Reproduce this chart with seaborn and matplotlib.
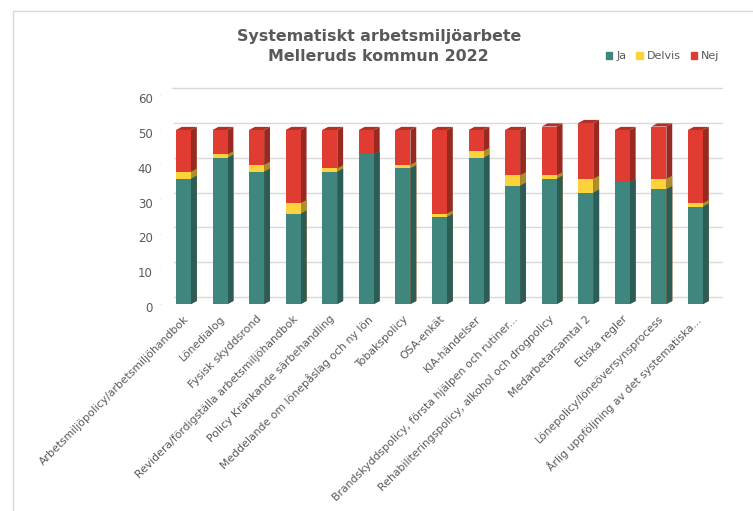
import numpy as np
import pandas as pd
import matplotlib
matplotlib.use("Agg")
import matplotlib.pyplot as plt
import matplotlib.transforms as mtransforms
import seaborn as sns
from matplotlib.patches import Polygon, Rectangle
from matplotlib.lines import Line2D
from matplotlib.colors import to_rgb

aktiviteter = [
    "Arbetsmiljöpolicy/arbetsmiljöhandbok",
    "Lönedialog",
    "Fysisk skyddsrond",
    "Revidera/fördigställa arbetsmiljöhandbok",
    "Policy Kränkande särbehandling",
    "Meddelande om lönepåslag och ny lön",
    "Tobakspolicy",
    "OSA-enkät",
    "KIA-händelser",
    "Brandskyddspolicy, första hjälpen och rutiner...",
    "Rehabiliteringspolicy, alkohol och drogpolicy",
    "Medarbetarsamtal 2",
    "Etiska regler",
    "Lönepolicy/löneöversynsprocess",
    "Årlig uppföljning av det systematiska...",
]
ja = [36, 42, 38, 26, 38, 43, 39, 25, 42, 34, 36, 32, 35, 33, 28]
delvis = [2, 1, 2, 3, 1, 0, 1, 1, 2, 3, 1, 4, 0, 3, 1]
nej = [12, 7, 10, 21, 11, 7, 10, 24, 6, 13, 14, 16, 15, 15, 21]
yticks = [0, 10, 20, 30, 40, 50, 60]

farger = {"Ja": "#3F877E", "Delvis": "#FDD33C", "Nej": "#E03C31"}
textfarg = "#595959"

df = pd.DataFrame({"aktivitet": aktiviteter, "Ja": ja, "Delvis": delvis, "Nej": nej})
df["ja_delvis"] = df["Ja"] + df["Delvis"]
df["total"] = df["ja_delvis"] + df["Nej"]

sns.set_style("white")
plt.rcParams["font.family"] = ["DejaVu Sans"]
fig = plt.figure(figsize=(7.53, 5.11), dpi=100)
ax = fig.add_axes([0.2138, 0.405, 0.7462, 0.421])

# staplade staplar: störst först
for kol, farg in [("total", farger["Nej"]), ("ja_delvis", farger["Delvis"]), ("Ja", farger["Ja"])]:
    sns.barplot(x="aktivitet", y=kol, data=df, color=farg, width=0.41,
                saturation=1, ax=ax, zorder=3, edgecolor="none", linewidth=0)

# lite 3D-känsla: sidor och tak
dx, dy = 0.16, 0.9
def mork(c, f):
    r, g, b = to_rgb(c)
    return (r * f, g * f, b * f)

bars = [p for p in ax.patches if isinstance(p, Rectangle)]
for p in bars:
    x0, y0 = p.get_x(), p.get_y()
    x1, y1 = x0 + p.get_width(), y0 + p.get_height()
    if y1 <= y0:
        continue
    ax.add_patch(Polygon([(x1, y0), (x1 + dx, y0 + dy), (x1 + dx, y1 + dy), (x1, y1)],
                         closed=True, facecolor=mork(p.get_facecolor(), 0.68),
                         edgecolor="none", zorder=2.9))
for i, t in enumerate(df["total"]):
    x0, w = bars[i].get_x(), bars[i].get_width()
    ax.add_patch(Polygon([(x0, t), (x0 + dx, t + dy), (x0 + w + dx, t + dy), (x0 + w, t)],
                         closed=True, facecolor=mork(farger["Nej"], 0.8),
                         edgecolor="none", zorder=3.1))

ax.set_ylim(0, 61.8)
ax.set_xlim(-0.615, len(aktiviteter) - 0.25)
ax.set_yticks(yticks)
ax.grid(False)

# rutnät i bakgrunden, förskjutet som i ett 3D-diagram
bak = mtransforms.offset_copy(ax.get_yaxis_transform(), fig=fig, x=13, y=7, units="dots")
for v in yticks:
    ax.add_line(Line2D([0, 0.975], [v, v], transform=bak, color="#D9D9D9", lw=1,
                       zorder=0, clip_on=False))
    p0 = ax.get_yaxis_transform().transform((0, v))
    p1 = p0 + np.array([13, 7])
    fig.add_artist(Line2D([p0[0], p1[0]], [p0[1], p1[1]], transform=None,
                          color="#D9D9D9", lw=1, zorder=0))

for s in ax.spines.values():
    s.set_visible(False)
ax.set_xlabel("")
ax.set_ylabel("")
ax.tick_params(axis="both", length=0, colors=textfarg, labelsize=8.5)
ax.tick_params(axis="y", pad=6)
ax.tick_params(axis="x", pad=7, labelsize=7.8)
ax.set_xticks(range(len(aktiviteter)))
ax.set_xticklabels(aktiviteter, rotation=45, ha="right", rotation_mode="anchor")
ned = mtransforms.ScaledTranslation(0, -3 / 100, fig.dpi_scale_trans)
for lab in ax.get_yticklabels():
    lab.set_transform(lab.get_transform() + ned)

fig.text(0.503, 0.909, "Systematiskt arbetsmiljöarbete\nMelleruds kommun 2022",
         ha="center", va="center", fontsize=11.4, fontweight="bold",
         color=textfarg, linespacing=1.45)

handles = [Rectangle((0, 0), 1, 1, color=farger[k]) for k in ["Ja", "Delvis", "Nej"]]
fig.legend(handles, ["Ja", "Delvis", "Nej"], loc="center", bbox_to_anchor=(0.88, 0.89),
           ncol=3, frameon=False, fontsize=8, handlelength=0.6, handleheight=0.6,
           handletextpad=0.35, columnspacing=0.9, labelcolor=textfarg)

# ram runt diagrammet
fig.patches.append(Rectangle((0.0173, -0.05), 1.0, 1.028, transform=fig.transFigure,
                             fill=False, edgecolor="#D9D9D9", linewidth=1))

fig.savefig("out.png", dpi=100)
